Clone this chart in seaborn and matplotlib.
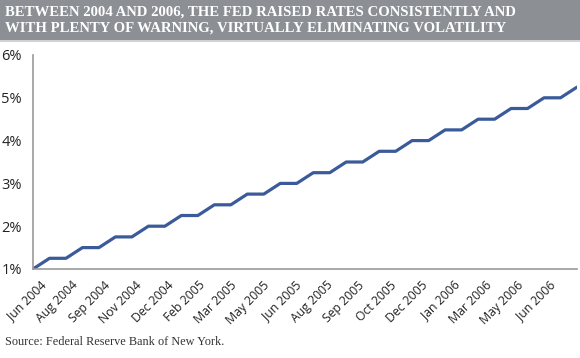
import numpy as np
import pandas as pd
import matplotlib
matplotlib.use("Agg")
import matplotlib.pyplot as plt
import seaborn as sns

# ---- data ----
tick_labels = ["Jun 2004", "Aug 2004", "Sep 2004", "Nov 2004", "Dec 2004",
               "Feb 2005", "Mar 2005", "May 2005", "Jun 2005", "Aug 2005",
               "Sep 2005", "Oct 2005", "Dec 2005", "Jan 2006", "Mar 2006",
               "May 2006", "Jun 2006"]
rates = [1.00, 1.25, 1.25, 1.50, 1.50, 1.75, 1.75, 2.00, 2.00, 2.25, 2.25,
         2.50, 2.50, 2.75, 2.75, 3.00, 3.00, 3.25, 3.25, 3.50, 3.50, 3.75,
         3.75, 4.00, 4.00, 4.25, 4.25, 4.50, 4.50, 4.75, 4.75, 5.00, 5.00,
         5.25]
y_ticks = [1, 2, 3, 4, 5, 6]
title = ("BETWEEN 2004 AND 2006, THE FED RAISED RATES CONSISTENTLY AND\n"
         "WITH PLENTY OF WARNING, VIRTUALLY ELIMINATING VOLATILITY")
source = "Source: Federal Reserve Bank of New York."

sns.set_style("white")
plt.rcParams['font.family'] = ['Open Sans', 'DejaVu Sans']

W, H = 580, 358
fig = plt.figure(figsize=(W / 100, H / 100), dpi=100)
ax = fig.add_axes([33 / W, (H - 269) / H, (577 - 33) / W, (269 - 55) / H])

df = pd.DataFrame({"x": np.arange(len(rates)), "rate": rates})
sns.lineplot(data=df, x="x", y="rate", ax=ax, color="#3b5a9a", linewidth=2.3)

ax.set_xlim(0, len(rates) - 1)
ax.set_ylim(1, 6)
ax.set_yticks(y_ticks)
ax.set_yticklabels([f"{v}%" for v in y_ticks], fontsize=10.5, color="#222222")
tick_pos = np.linspace(0.4, 31.3, len(tick_labels))
ax.set_xticks(tick_pos)
ax.set_xticklabels(tick_labels, rotation=45, ha="right", rotation_mode="anchor",
                   fontsize=8.8, color="#222222")
ax.tick_params(axis="both", length=0)
ax.tick_params(axis="y", pad=8)
ax.tick_params(axis="x", pad=7)
ax.set_xlabel("")
ax.set_ylabel("")
for s in ["top", "right"]:
    ax.spines[s].set_visible(False)
for s in ["left", "bottom"]:
    ax.spines[s].set_color("#999999")
    ax.spines[s].set_linewidth(1.2)

# title band
fig.patches.append(plt.Rectangle((0, 1 - 40 / H), 1, 40 / H, transform=fig.transFigure,
                                 facecolor="#8c8f94", edgecolor="none", zorder=0))
fig.patches.append(plt.Rectangle((0, 1 - 42 / H), 1, 2 / H, transform=fig.transFigure,
                                 facecolor="#d0d2d4", edgecolor="none", zorder=0))

t = fig.text(5 / W, 1 - 20 / H, title, ha="left", va="center", color="white",
             fontsize=14, fontweight="bold", family=["Liberation Serif"],
             linespacing=1.35)
src = fig.text(5 / W, 1 - 342 / H, source, ha="left", va="center", color="#333333",
               fontsize=11, family=["Liberation Serif"])

# fit widths to reference
fig.canvas.draw()
r = fig.canvas.get_renderer()
w = t.get_window_extent(r).width
t.set_fontsize(14 * 515 / w)
w = src.get_window_extent(r).width
src.set_fontsize(11 * 217 / w)

fig.savefig("out.png", dpi=100)
